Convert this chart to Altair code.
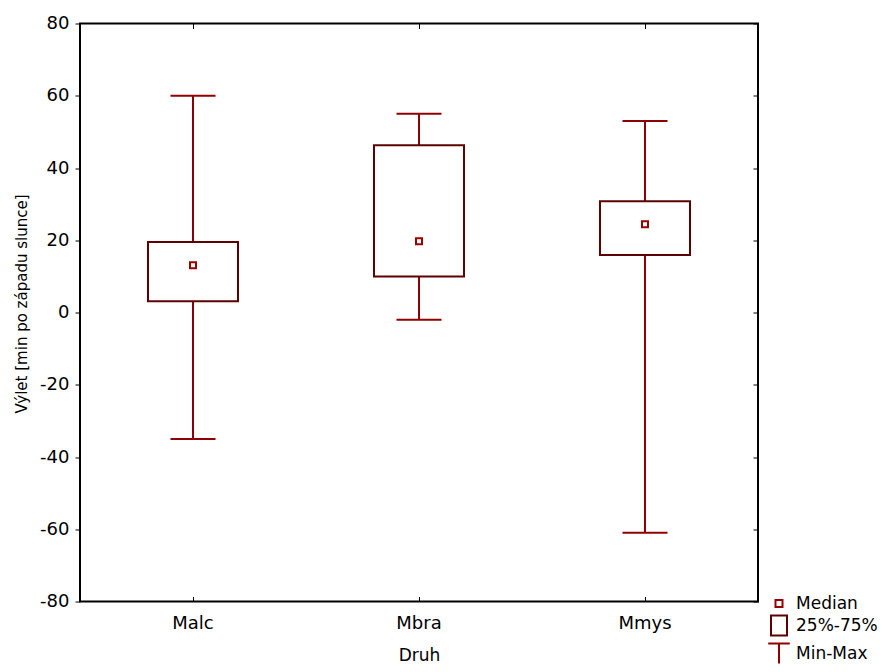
import altair as alt
import pandas as pd

# ---- data ----
categories = ["Malc", "Mbra", "Mmys"]
mins = [-35, -2, -61]
q1s = [3.1, 10.0, 15.9]
medians = [13.1, 19.7, 24.4]
q3s = [19.5, 46.3, 30.8]
maxs = [60, 55, 53]
y_ticks = [-80, -60, -40, -20, 0, 20, 40, 60, 80]
legend_labels = ["Median", "25%-75%", "Min-Max"]

FONT = "DejaVu Sans"
WHISKER = "#8e0000"
BOXC = "#5c0000"
MEDC = "#9a0000"

df = pd.DataFrame({"cat": categories, "lo": mins, "q1": q1s,
                   "med": medians, "q3": q3s, "hi": maxs})
leg_df = pd.DataFrame({"item": legend_labels})

xscale = alt.Scale(domain=categories, paddingInner=0, paddingOuter=0)
yscale = alt.Scale(domain=[-80, 80], nice=False, zero=False)
x_none = alt.X("cat:N", scale=xscale, axis=None)

base = alt.Chart(df)

rule = base.mark_rule(color=WHISKER, strokeWidth=2, opacity=1).encode(
    x=alt.X("cat:N", scale=xscale, title=None,
            axis=alt.Axis(orient="top", offset=-5, domain=False, labels=False,
                          ticks=True, tickSize=5, tickColor="black", tickWidth=1)),
    y=alt.Y("lo:Q", scale=yscale, title=None,
            axis=alt.Axis(orient="right", offset=-5, values=y_ticks, domain=False,
                          labels=False, ticks=True, tickSize=5, tickColor="black",
                          tickWidth=1, grid=False)),
    y2="hi:Q",
)

box = base.mark_bar(size=90, fill="white", stroke=BOXC, strokeWidth=2, opacity=1).encode(
    x=alt.X("cat:N", scale=xscale, title="Druh",
            axis=alt.Axis(orient="bottom", offset=-5, domain=False, ticks=True,
                          tickSize=5, tickColor="black", tickWidth=1,
                          labelPadding=13, labelFont=FONT, labelFontSize=18,
                          labelColor="black", labelAngle=0,
                          titleFont=FONT, titleFontSize=17, titleFontWeight="normal",
                          titleColor="black", titlePadding=15)),
    y=alt.Y("q1:Q", scale=yscale, title="Výlet [min po západu slunce]",
            axis=alt.Axis(orient="left", values=y_ticks, domain=False, grid=False,
                          ticks=True, tickSize=5, tickColor="black", tickWidth=1,
                          labelPadding=6, labelFont=FONT, labelFontSize=18,
                          labelColor="black", labelExpr="toString(datum.value)",
                          titleFont=FONT, titleFontSize=15, titleFontWeight="normal",
                          titleColor="black", titlePadding=10, titleY=280)),
    y2="q3:Q",
)

caps = base.transform_fold(["lo", "hi"], as_=["k", "v"]).mark_tick(
    size=45, thickness=2, color=WHISKER, opacity=1
).encode(
    x=x_none,
    y=alt.Y("v:Q", scale=yscale, axis=None),
)

median = base.mark_point(shape="square", size=36, filled=False, color=MEDC,
                         strokeWidth=2, opacity=1).encode(
    x=x_none,
    y=alt.Y("med:Q", scale=yscale, axis=None),
)

leg = alt.Legend(orient="none", legendX=689, legendY=570, title=None,
                 symbolSize=324, symbolStrokeWidth=2, symbolOpacity=1,
                 labelFont=FONT, labelFontSize=17, labelColor="black",
                 labelOffset=7, rowPadding=0, padding=0)

shape_paths = [
    "M-0.39,-0.39H0.39V0.39H-0.39Z",
    "M-0.89,-1.1H0.89V1.1H-0.89Z",
    "M-1.2,-1.1H1.2M0,-1.1V1.1",
]
legend_layer = alt.Chart(leg_df).mark_point(opacity=0, filled=False, strokeWidth=2).encode(
    shape=alt.Shape("item:N", scale=alt.Scale(domain=legend_labels, range=shape_paths),
                    legend=leg),
    stroke=alt.Stroke("item:N", scale=alt.Scale(domain=legend_labels,
                                                range=[MEDC, BOXC, WHISKER]),
                      legend=leg),
)

chart = alt.layer(rule, box, caps, median, legend_layer).resolve_axis(
    x="independent", y="independent"
).properties(
    width=678, height=578,
    autosize=alt.AutoSizeParams(type="none"),
    padding={"left": 72, "top": 15.5, "right": 122, "bottom": 62},
    background="white",
).configure_view(stroke="black", strokeWidth=2)

chart.save("out.html", embed_options={"renderer": "svg", "actions": False})
